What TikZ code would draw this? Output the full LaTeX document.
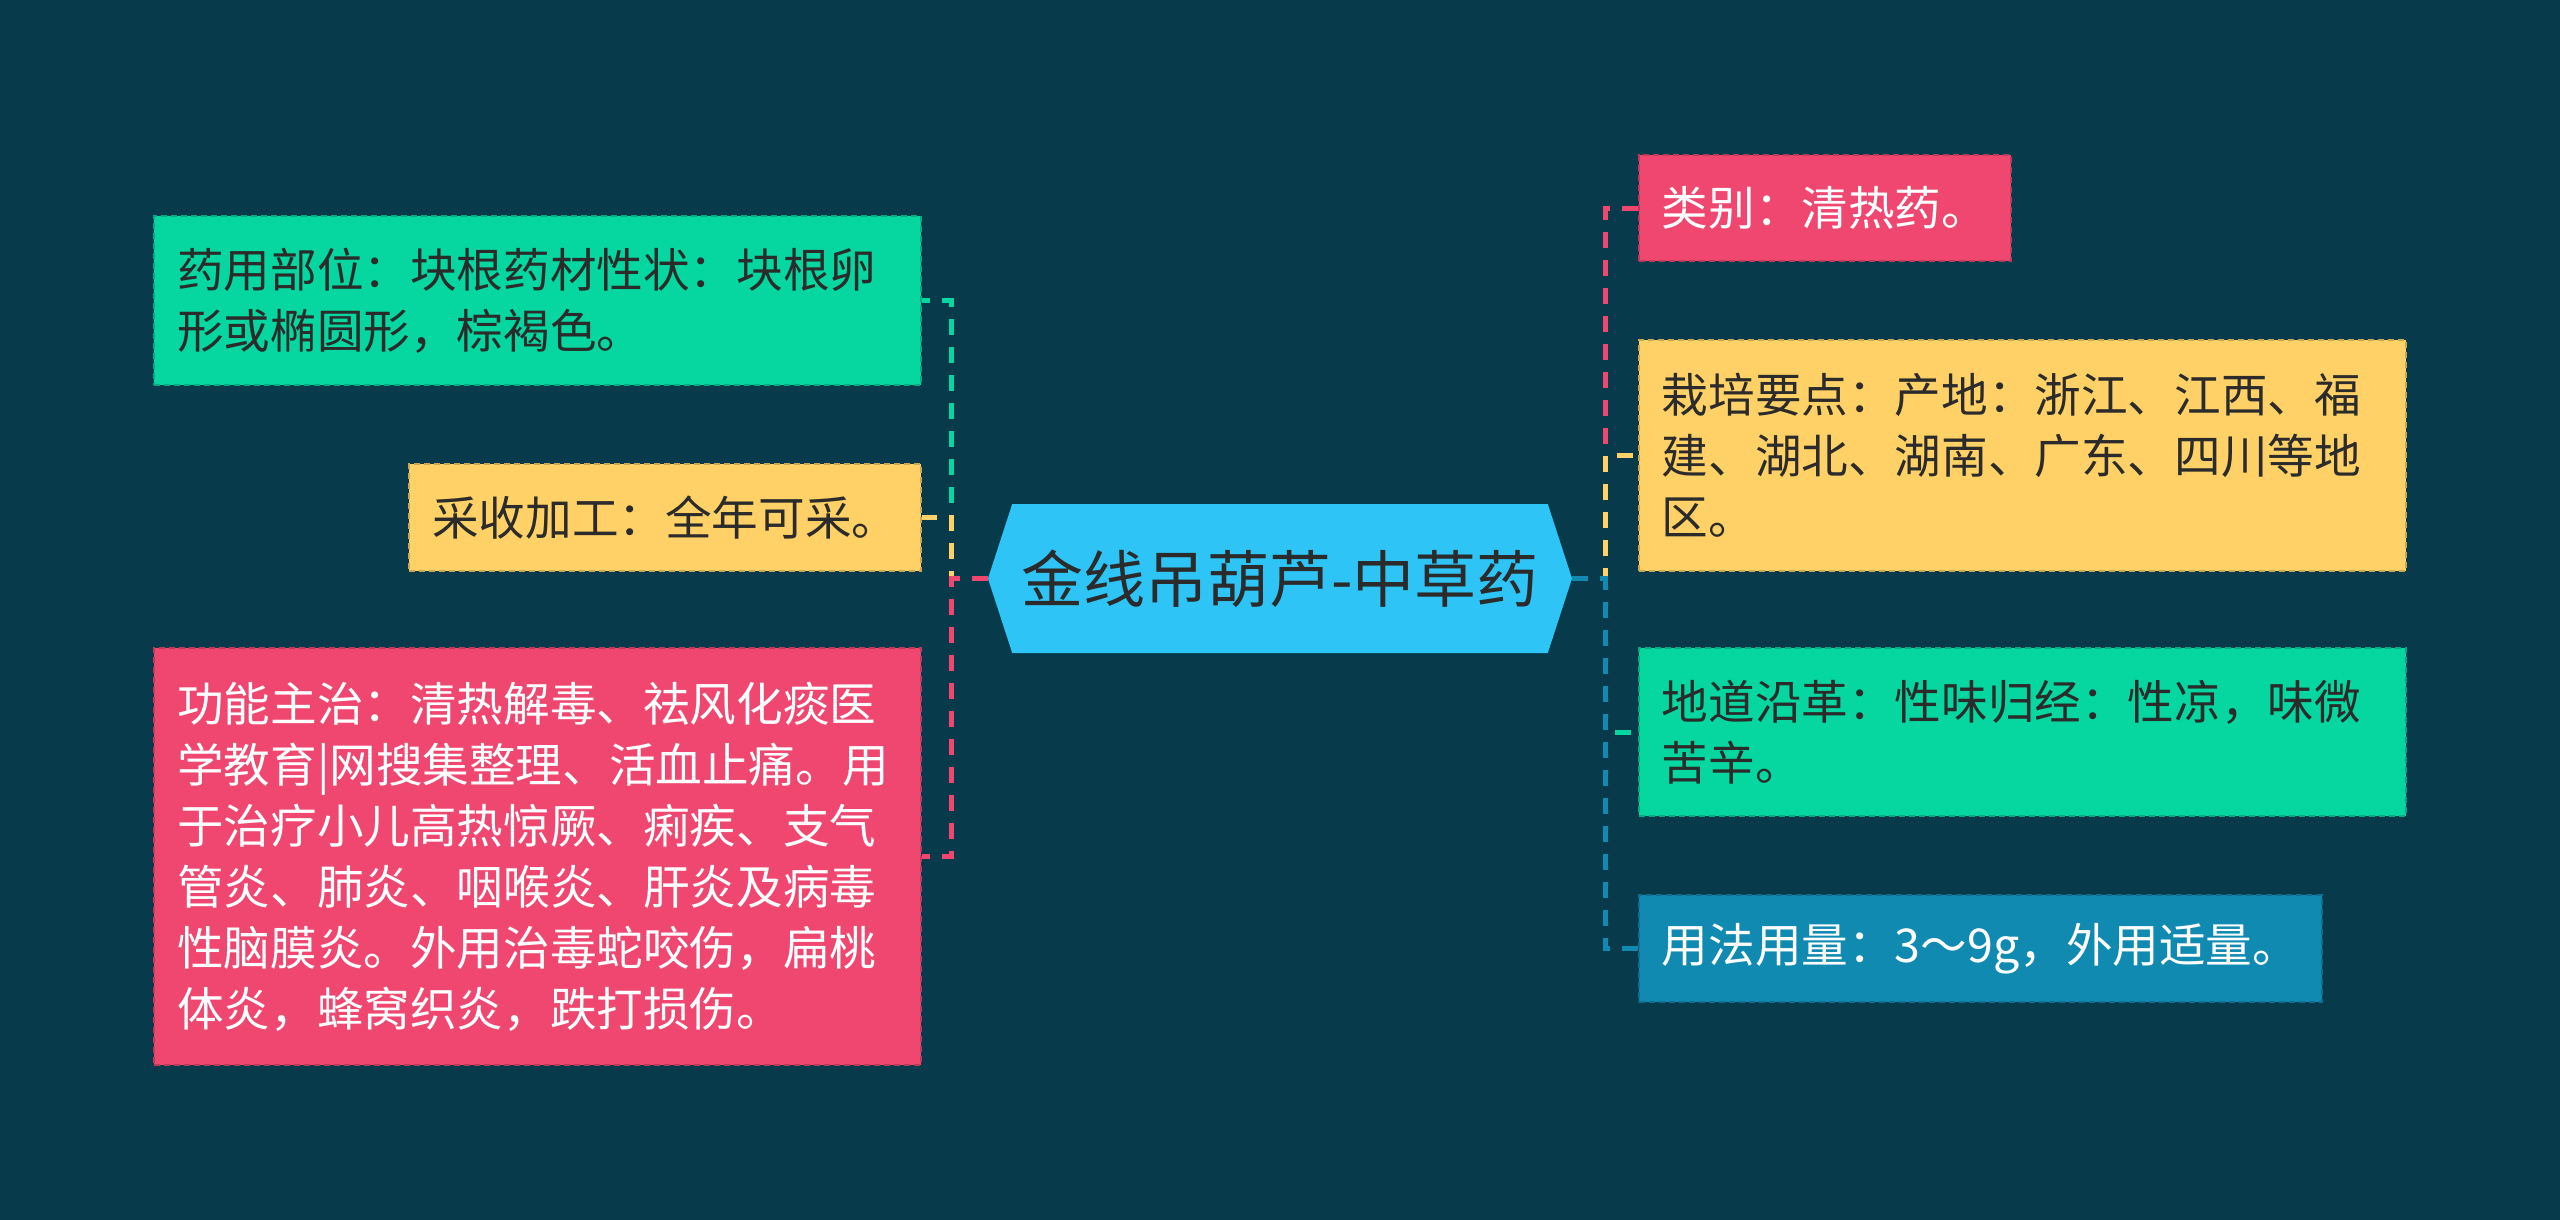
\documentclass[tikz,border=0pt]{standalone}
\usepackage{fontspec}
\setmainfont{Noto Sans CJK SC}
\usetikzlibrary{shapes.symbols}
\definecolor{bgteal}{HTML}{073B4C}
\definecolor{topiccyan}{HTML}{2EC4F5}
\definecolor{leafred}{HTML}{EF476F}
\definecolor{leafyellow}{HTML}{FFD166}
\definecolor{leafgreen}{HTML}{06D6A0}
\definecolor{leafblue}{HTML}{118AB2}
\definecolor{inkdark}{HTML}{2B2B2B}
\begin{document}
\begin{tikzpicture}[x=0.5pt, y=-0.5pt,
    leaf/.style={rectangle, fill=#1, draw=#1!80!black, line width=0.8pt,
        dash pattern=on 3pt off 2pt, inner xsep=11.5pt, inner ysep=6pt,
        align=left, font=\fontsize{23.3pt}{30.5pt}\selectfont},
    wide/.style={text width=360.5pt},
    branch/.style={draw=#1, line width=2.5pt, dash pattern=on 8pt off 6pt},
    topic/.style={signal, signal to=west and east, signal pointer angle=144,
        fill=topiccyan, text=inkdark, minimum width=292pt, minimum height=74.5pt,
        inner sep=0pt, font=\fontsize{31pt}{36pt}\selectfont}]
    \fill[bgteal] (0,0) rectangle (2560,1220);
    \useasboundingbox (0,0) rectangle (2560,1220);

    \node[topic] (ctr) at (1280,578.5) {金线吊葫芦-中草药};

    % left side
    \node[leaf=leafgreen, wide, text=inkdark, anchor=east, minimum height=84.5pt]
        (useL) at (922,300.5) {药用部位：块根药材性状：块根卵\\形或椭圆形，棕褐色。};
    \node[leaf=leafyellow, text=inkdark, anchor=east, minimum height=53.5pt]
        (harvest) at (922,517.5) {采收加工：全年可采。};
    \node[leaf=leafred, wide, text=white, anchor=east, minimum height=208.5pt]
        (effect) at (922,856.5) {功能主治：清热解毒、祛风化痰医\\学教育|网搜集整理、活血止痛。用\\于治疗小儿高热惊厥、痢疾、支气\\管炎、肺炎、咽喉炎、肝炎及病毒\\性脑膜炎。外用治毒蛇咬伤，扁桃\\体炎，蜂窝织炎，跌打损伤。};

    % right side
    \node[leaf=leafred, text=white, anchor=west, minimum height=53pt]
        (kind) at (1638,208) {类别：清热药。};
    \node[leaf=leafyellow, wide, text=inkdark, anchor=west, minimum height=115.5pt]
        (grow) at (1638,455.5) {栽培要点：产地：浙江、江西、福\\建、湖北、湖南、广东、四川等地\\区。};
    \node[leaf=leafgreen, wide, text=inkdark, anchor=west, minimum height=84pt]
        (origin) at (1638,732) {地道沿革：性味归经：性凉，味微\\苦辛。};
    \node[leaf=leafblue, text=white, anchor=west, minimum height=53.5pt]
        (dose) at (1638,948.5) {用法用量：3～9g，外用适量。};

    \draw[branch=leafgreen] (ctr.west) -- ++(-36,0) |- (useL.east);
    \draw[branch=leafyellow] (ctr.west) -- ++(-36,0) |- (harvest.east);
    \draw[branch=leafred] (ctr.west) -- ++(-36,0) |- (effect.east);

    \draw[branch=leafred] (ctr.east) -- ++(33,0) |- (kind.west);
    \draw[branch=leafyellow] (ctr.east) -- ++(33,0) |- (grow.west);
    \draw[branch=leafgreen] (ctr.east) -- ++(33,0) |- (origin.west);
    \draw[branch=leafblue] (ctr.east) -- ++(33,0) |- (dose.west);
\end{tikzpicture}
\end{document}
